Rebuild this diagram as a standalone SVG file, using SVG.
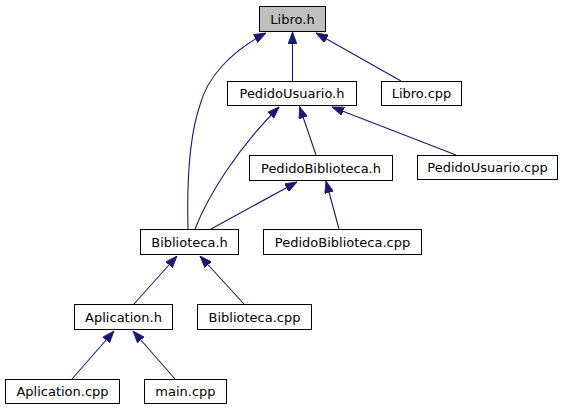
<svg xmlns="http://www.w3.org/2000/svg" width="565" height="411" viewBox="0 0 565 411">
<style>
.n rect{fill:#ffffff;stroke:#000000;stroke-width:1}
.n text{font-family:"DejaVu Sans",sans-serif;font-size:13px;fill:#000000;text-anchor:middle}
#edges path{fill:none;stroke:#191970;stroke-width:1.1;marker-end:url(#ah)}
</style>
<defs>
<marker id="ah" viewBox="0 0 12 9" markerWidth="12" markerHeight="9" refX="12" refY="4.5" orient="auto" markerUnits="userSpaceOnUse">
<path d="M0,0 L12,4.5 L0,9 z" fill="#191970" stroke="#191970" stroke-width="0.8"/>
</marker>
</defs>
<rect width="565" height="411" fill="#ffffff"/>
<g id="edges">
<path d="M188,229 C187,190 188,140 200,105 C207,78 230,52 266,33"/>
<path d="M292.5,81 L292.5,32"/>
<path d="M401,81 L316,33"/>
<path d="M195,229 C208,196 236,150 279,107"/>
<path d="M316,155 L299.5,106.5"/>
<path d="M456,155 L332,107"/>
<path d="M211,229 L297,182"/>
<path d="M339,229 L326,181"/>
<path d="M134,304 L177,256"/>
<path d="M244,304 L200,256"/>
<path d="M72,379 L114,331"/>
<path d="M175,379 L133,331"/>
</g>
<g id="libro_h" class="n"><rect x="259.5" y="6.5" width="66" height="25" style="fill:#bfbfbf"/><text x="292.5" y="23.5">Libro.h</text></g>
<g id="pedidousuario_h" class="n"><rect x="227.5" y="81.5" width="129" height="24"/><text x="292" y="98">PedidoUsuario.h</text></g>
<g id="libro_cpp" class="n"><rect x="381.5" y="81.5" width="80" height="24"/><text x="421.5" y="98">Libro.cpp</text></g>
<g id="pedidobiblioteca_h" class="n"><rect x="249.5" y="155.5" width="143" height="25"/><text x="321" y="172.5">PedidoBiblioteca.h</text></g>
<g id="pedidousuario_cpp" class="n"><rect x="417.5" y="155.5" width="140" height="24"/><text x="487.5" y="172">PedidoUsuario.cpp</text></g>
<g id="biblioteca_h" class="n"><rect x="140.5" y="229.5" width="98" height="25"/><text x="189.5" y="246.5">Biblioteca.h</text></g>
<g id="pedidobiblioteca_cpp" class="n"><rect x="263.5" y="229.5" width="158" height="25"/><text x="342.5" y="246.5">PedidoBiblioteca.cpp</text></g>
<g id="aplication_h" class="n"><rect x="74.5" y="304.5" width="98" height="25"/><text x="123.5" y="321.5">Aplication.h</text></g>
<g id="biblioteca_cpp" class="n"><rect x="197.5" y="304.5" width="114" height="25"/><text x="254.5" y="321.5">Biblioteca.cpp</text></g>
<g id="aplication_cpp" class="n"><rect x="5.5" y="379.5" width="114" height="24"/><text x="62.5" y="396">Aplication.cpp</text></g>
<g id="main_cpp" class="n"><rect x="144.5" y="379.5" width="82" height="24"/><text x="185.5" y="396">main.cpp</text></g>
</svg>
